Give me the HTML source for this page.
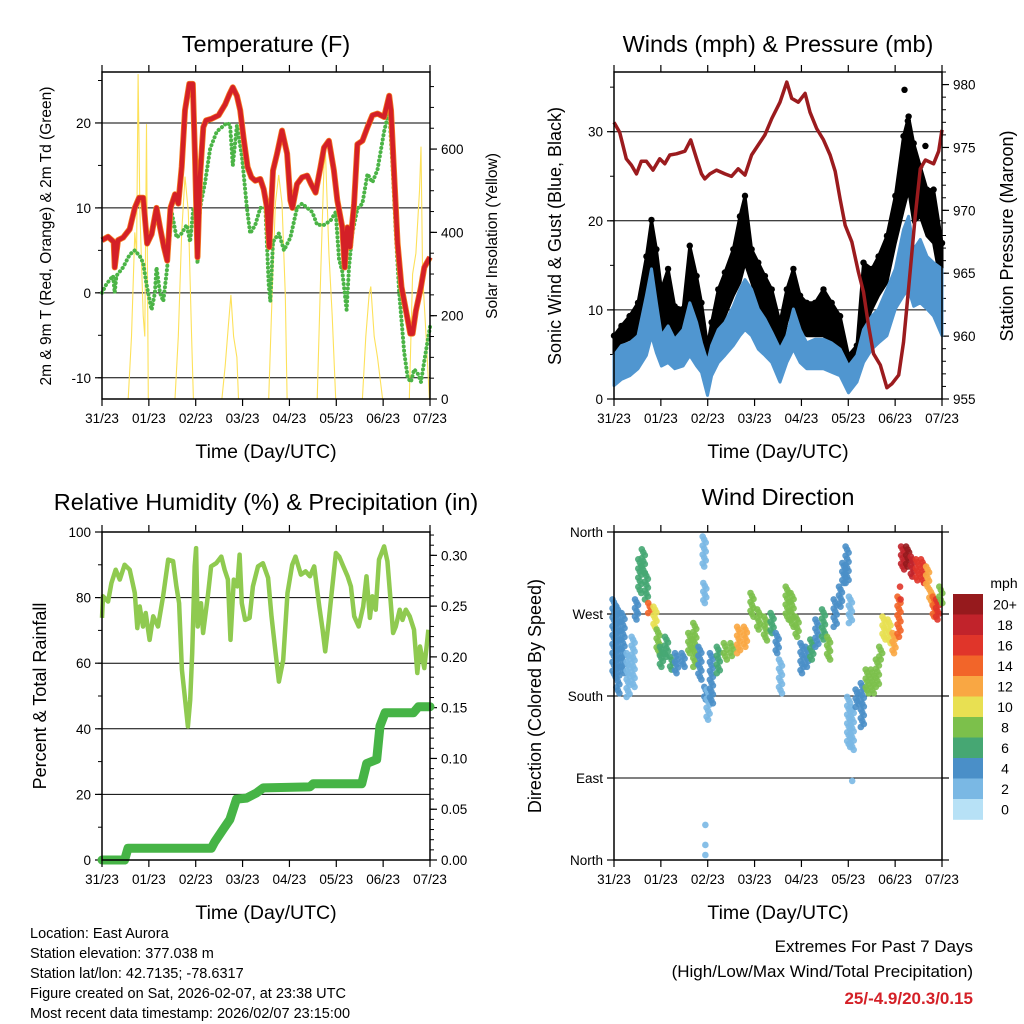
<!DOCTYPE html>
<html><head><meta charset="utf-8"><title>Station Meteogram</title>
<style>
html,body{margin:0;padding:0;background:#fff;}
svg{display:block;font-family:"Liberation Sans",Arial,sans-serif;}
</style></head>
<body>
<svg id="chart" width="1024" height="1024" viewBox="0 0 1024 1024">
<rect x="0" y="0" width="1024" height="1024" fill="#fff"/>
</svg>
<script>
// ---------- Temperature panel data ----------
const tempT = [0,3.1,6,6.5,8.2,10.8,14.2,16.8,19,21.1,23.1,25.4,27.9,29.7,31.7,33.4,35.1,37.4,39.1,40.8,42.5,44.7,46.5,47.7,48.9,50.2,51.9,53.3,56.2,59.7,63.1,65.3,67,69.1,70.8,72.5,74.6,76.5,78.5,81.1,82.8,84.5,85.7,86.6,87.6,89.7,92.2,94.8,96.5,97.5,99.9,102.5,105.1,107.1,109.4,111.9,113.7,116.2,118.8,120.5,123.1,124.3,125.7,127,129.1,130.8,133.4,136,138.5,141.1,144.5,147.1,148,149.7,151.4,153.4,155.7,157.9,159.1,160.8,163.4,165.1,168];
const tempV = [6.2,6.6,6,3,6.2,6.5,7.5,10,11.2,11.2,5.8,6.9,10,7.7,5.4,3.8,10,11.6,10.5,14.8,21.5,24.6,24.6,15.6,4.2,13.6,19.5,20.3,20.5,20.9,22.2,23.4,24.2,23.2,21.5,18.3,14.8,13.6,13.2,13.4,12.2,10,5.4,10,14.4,16.4,19.1,16.4,10.9,10,12.8,13.6,13.8,12.8,11.8,14.8,17.1,17.9,14.4,10.9,7.7,3,7.7,5.4,10.5,17.5,17.9,19.5,20.9,21.1,20.7,23.2,21.5,13.6,5.8,0.7,-2.1,-4.8,-4.8,-2.1,0.7,3,4.2];
const dewT = [0,2.2,5.7,6.5,7.4,10.8,14.2,16.8,19.4,21.1,22.8,25.4,27.1,27.9,29.7,31.4,33.4,35.7,38.2,40.8,43.4,45.1,46.8,48.2,48.9,50.2,52.8,55.4,58.8,63.9,65.6,67,69.1,71.7,74.2,75.9,78.5,81.1,83.7,85.4,86.2,87.6,90.6,93.2,96.5,99.9,102.5,105.1,107.7,110.2,113.7,117.1,119.7,121.4,123.1,125.3,126.5,128.2,130.8,133.4,136,138.5,141.1,144.5,147.1,148.8,150.5,152.2,154.8,156.6,158.2,159.9,161.7,163.4,165.1,168];
const dewV = [0,1,2,0,2,3,4.5,5,4.3,3.5,1,-2,0,3,0,-1,3,9.5,6.5,7,8,6,10,9,3.5,10,13,17,19,20,19.8,15,19.7,16,10,7,8,10,10,1,-1,6,7,5,6.5,10,10.5,10,9.5,8,8,8.5,9.5,4,2.5,-2,3,7,9.9,10.5,14,13,14.5,19,21.5,15,7,0,-7,-10,-10.5,-9,-9.5,-10.5,-8,-4];
const solarT = [0,13.4,15.1,16.8,17.7,18.5,19.4,21.1,21.9,22.8,23.7,37.4,39.1,40.8,42.5,44.2,45.9,46.8,61.4,63.1,64.8,66,67.4,69.1,69.9,85.4,87.1,88.8,90.5,92.2,93.9,94.8,110.2,112,113.7,114.5,116.2,117.9,119.7,133.4,135.1,136.8,137.7,139.4,141.1,143.7,157.4,159.1,160.8,162.6,163.4,164.2,166,167.7,168];
const solarV = [0,0,150,400,350,780,450,200,150,660,0,0,150,400,534,450,150,0,0,80,180,250,150,100,0,0,250,470,538,470,250,0,0,300,560,590,350,200,0,0,150,250,270,150,100,0,0,300,350,500,606,300,150,0,0];
const tempTicks = [-10,0,10,20];
const solarTicks = [0,200,400,600];
const dayLabels = ["31/23","01/23","02/23","03/23","04/23","05/23","06/23","07/23"];

// ---------- Wind panel data ----------
const windT = [0,3.8,8,12.3,16.6,19.2,21.7,24.3,27.7,31.1,35.4,38.8,42.3,44.8,47.9,50,53.4,56.8,61.1,64.5,67.1,70.5,73.9,77.3,80.8,85,88.5,91.9,95.3,98.7,103,107.3,111.5,115.8,120.1,124.4,127.8,132.1,135.5,139.8,144.1,148.3,150.9,153.5,156.9,160.3,163.7,168];
const windLo = [1.5,2.2,2.6,3.4,4.9,7.1,5.2,3.7,4.1,3.4,3.7,4.9,3.7,3,0.4,2.6,4.1,4.9,6,7.1,7.8,7.1,5.6,4.9,4.1,1.9,4.1,5.6,4.1,3.4,3.4,3.4,3,2.6,0.7,1.9,4.1,5.6,6.3,7.1,10.1,11.6,12.3,10.4,10.8,10.1,9.3,7.1];
const windHi = [4.9,6,6.3,7.1,11.6,14.6,10.8,7.1,8.2,6.7,7.8,10.8,8.6,6.3,4.1,6,7.8,8.6,10.4,12.3,13.4,12.3,10.1,9,7.5,5.6,7.1,10.1,7.8,6.3,6.7,6.7,6.3,5.6,3.7,4.9,7.8,9.3,10.1,12.3,14.6,19,20.5,16.8,17.9,16,15.3,14.6];
const gustLo = [4.9,6.3,6.7,7.5,9.3,12.3,9.3,6.3,7.1,6.3,7.1,8.6,7.8,6.3,4.1,6,7.8,9.3,11.6,13.1,15.3,13.1,10.8,9,7.8,4.9,8.6,10.8,7.8,7.1,7.1,7.1,6.3,5.2,3.7,4.9,7.8,10.1,11.6,13.1,17.5,21.3,23.5,19.8,20.5,18.3,17.5,12.3];
const gustHi = [7.1,8.2,9.3,10.8,16,20.1,16.8,12.3,14.6,10.4,10.1,17.2,13.8,10.8,6,8.6,12.3,14.2,16.8,20.5,22.8,16.8,15.3,13.8,12.3,8.6,12.3,14.6,11.6,10.8,10.8,12.3,10.8,9.3,4.9,6,15.3,14.6,16,18.3,22.8,29.5,31.7,28.7,26.1,23.5,23.5,17.5];
const gustPeakT = [148.8,150.5,159.5];
const gustPeakV = [34.7,31.2,28.4];
const presT = [0,2.9,6.3,8.9,11.5,14,16.6,20,23.4,26,28.6,32,36.3,39.3,42.3,44.8,46.5,49.1,52.5,56.8,60.2,63.6,67.1,70.5,73.9,77.3,80.8,85,88.5,91,94.4,97.9,100.4,103.8,107.3,110.7,113.3,115.8,118.4,121.8,125.2,127.8,130.4,132.9,136.4,139.8,142.3,145.8,148.3,150.9,154.3,156.9,159.5,163.7,166.3,168];
const presV = [977,976.2,974.1,973.6,972.9,973.9,973.9,973.2,974.1,973.7,974.4,974.5,974.7,975.6,974.1,972.9,972.5,972.9,973.2,972.9,972.7,973.3,972.8,974.4,975.2,976,977.3,978.6,980.2,978.9,978.6,979.3,977.8,976.5,975.6,974.4,973.1,970.9,968.8,967.5,965.1,963.5,960.8,958.6,957.7,955.9,956.2,956.9,959.5,963.8,969.6,973.3,974,973.7,974.7,976.4];
const windTicks = [0,10,20,30];
const presTicks = [955,960,965,970,975,980];

// ---------- RH / precip data ----------
const rhT = [0,0.5,3.1,4.8,7,9.1,11.6,14.2,16.8,18.1,19.3,21,22.4,24.4,26.2,28.7,31.3,33.9,36.4,38.1,39.5,40.9,42.4,44,45.2,46.2,47.5,48.2,49,50.7,51.8,54.2,55.9,58.5,61.1,62.8,64.5,65.8,67.5,69.3,70.5,71.6,73.3,75.6,77.3,79.9,82.4,85.1,86.8,88.9,90.6,92.8,95,97.4,99.1,101.9,104.3,106.5,108.7,111.3,113,114.3,116,117.8,119.8,121.5,123.6,125.8,127.5,129.2,131.5,133.8,135.5,137.2,138.5,140.2,141.9,144.5,146.2,147.9,149.1,150.5,152.5,153.9,155.6,157.6,159.8,161.5,162.9,165.1,167.2];
const rhV = [73.8,80.4,78.8,84.4,88.5,85.5,90,88.5,81.4,70.7,77.3,71.2,75.3,67.1,74.3,71.2,80.4,91.6,91.1,83.4,78.3,58,49.8,40.7,48.8,63.1,89.5,95.1,71.2,78.3,69.2,80.4,89.5,90.5,92.5,88.5,85.5,67.1,85.5,83.4,93.1,78.3,73.2,73.8,83.4,89.5,90.5,86,74.3,63.1,54.4,61,81.4,90,92.5,87,88,86.5,89.5,77.3,70.2,63.6,72.2,82.4,93.6,92.5,89.5,86.5,83.4,74.3,71.2,77.3,86.5,73.8,80.4,76.3,91.6,95.6,91.1,78.3,69.2,71.2,76.3,73.2,76.3,74.3,70.2,57,65.1,58.5,70.2];
const rainT = [0,11.6,13.3,56,57.8,62,65.5,68.9,74,79.1,82.6,106.5,108.2,133,135.6,140.7,142.4,145,159.5,162.1,168];
const rainV = [0,0,0.0115,0.0115,0.018,0.03,0.04,0.06,0.061,0.066,0.071,0.072,0.075,0.075,0.095,0.099,0.132,0.145,0.145,0.151,0.151];
const rhTicks = [0,20,40,60,80,100];
const rainTicks = [0,0.05,0.10,0.15,0.20,0.25,0.30];
const rainLabels = ["0.00","0.05","0.10","0.15","0.20","0.25","0.30"];

// ---------- Wind direction data ----------
const dirT = [0,2,4.6,7.2,9.8,11.5,13.2,15,16.6,18.3,21,22.6,24.3,26.9,29.5,32,35.4,38.8,41.4,44,46.2,46.5,47,48.2,49.9,53.4,57,60.4,63.8,67.3,70.7,74.1,77.6,81,83.6,85.3,88.7,91.2,93.8,96.3,98.8,101.3,103.9,107.3,109.9,113.3,116,117.7,119.4,121.1,120.2,122,124.5,127.2,129.7,132.3,134.9,136.6,138.3,140.9,143.4,146,147.8,150.4,152.8,155.4,158,160.6,162.3,164,165.7,167.4];
const dirLo = [201,183,205,179,190,264,293,315,286,271,256,227,212,223,209,205,212,227,212,198,322,282,176,154,172,205,220,224,227,234,267,253,241,249,227,183,264,256,245,205,212,220,234,242,220,256,278,304,304,260,124,121,168,146,183,183,190,220,242,238,227,245,319,322,311,307,304,300,282,267,264,282];
const dirHi = [286,278,271,227,245,286,330,341,315,282,278,253,234,245,223,227,227,249,260,234,355,304,190,187,227,234,238,238,256,256,293,275,267,271,249,220,300,293,267,238,234,242,264,275,245,286,300,326,344,289,179,168,187,194,209,209,220,234,267,264,249,289,344,344,333,330,330,322,297,289,286,300];
const dirSpd = [3,3,3,2,2.5,4,5,6,6,13,10,7,6,6,5,4,4.5,8,7,4,1.5,1.5,4,2,4,6,7,7.5,11,11,8.5,7,7,6.5,4,2.5,7,7.5,8,4,4,5,4,6,7,4.5,4,4,4,2,2,2,4,4,7,7,7.5,7,9,10,12,14,18,20,17,16,15,11,11,14,15,8];
const dirIsoT = [46.8,46.8,46.8,122,146.5,146.8];
const dirIsoV = [38.5,16.5,5.5,86.8,300,286];
const dirIsoSpd = [1,1,1,1,15,15];
const dirTickVals = [0,90,180,270,360];
const dirTickLabels = ["North","East","South","West","North"];
const speedLabels = ["0","2","4","6","8","10","12","14","16","18","20+"];
const speedColors = ["#b7e1f6","#7ab8e4","#4a8fc8","#46a773","#7cc04b","#e8e052","#f9a743","#f26529","#e0352a","#c1232b","#961a1d"];

// ---------- helpers ----------
const NS = 'http://www.w3.org/2000/svg';
const svg = document.getElementById('chart');
function mk(tag, attrs, parent) {
  const e = document.createElementNS(NS, tag);
  for (const k in attrs) e.setAttribute(k, attrs[k]);
  (parent || svg).appendChild(e);
  return e;
}
function txt(str, x, y, size, anchor, parent, extra) {
  const a = {x: x, y: y, 'font-size': size, 'text-anchor': anchor || 'middle', fill: '#000'};
  if (extra) for (const k in extra) a[k] = extra[k];
  const e = mk('text', a, parent);
  e.textContent = str;
  return e;
}
function xs(P, t) { return P.x0 + t / 168 * (P.x1 - P.x0); }
function ys(P, v, lo, hi) { return P.y1 - (v - lo) / (hi - lo) * (P.y1 - P.y0); }
function pathOf(P, T, V, lo, hi) {
  let d = '';
  for (let i = 0; i < T.length; i++) d += (i ? 'L' : 'M') + xs(P, T[i]).toFixed(1) + ',' + ys(P, V[i], lo, hi).toFixed(1);
  return d;
}
function bandOf(P, T, L, H, lo, hi) {
  let d = '';
  for (let i = 0; i < T.length; i++) d += (i ? 'L' : 'M') + xs(P, T[i]).toFixed(1) + ',' + ys(P, H[i], lo, hi).toFixed(1);
  for (let i = T.length - 1; i >= 0; i--) d += 'L' + xs(P, T[i]).toFixed(1) + ',' + ys(P, L[i], lo, hi).toFixed(1);
  return d + 'Z';
}
function frame(P, g) {
  const r = mk('rect', {x: P.x0, y: P.y0, width: P.x1 - P.x0, height: P.y1 - P.y0, fill: 'none', stroke: '#000', 'stroke-width': 1.5}, g);
  
  
}
function xAxis(P, g) {
  for (let i = 0; i < dayLabels.length; i++) {
    const x = xs(P, i * 24);
    mk('line', {x1: x, x2: x, y1: P.y1, y2: P.y1 + 7, stroke: '#000', 'stroke-width': 1.2}, g);
    mk('line', {x1: x, x2: x, y1: P.y0, y2: P.y0 - 7, stroke: '#000', 'stroke-width': 1.2}, g);
    const l = txt(dayLabels[i], x, P.y1 + 24, 13.5, 'middle', g);
    
    
  }
  const t = txt('Time (Day/UTC)', (P.x0 + P.x1) / 2, P.y1 + 59, 19.5, 'middle', g);
  
  
}
function leftTicks(P, g, vals, labels, lo, hi, grid, minorStep) {
  if (minorStep) {
    for (let v = Math.ceil(lo / minorStep) * minorStep; v <= hi; v += minorStep) {
      const y = ys(P, v, lo, hi);
      mk('line', {x1: P.x0 - 4, x2: P.x0, y1: y, y2: y, stroke: '#000', 'stroke-width': 1}, g);
    }
  }
  for (let i = 0; i < vals.length; i++) {
    const y = ys(P, vals[i], lo, hi);
    mk('line', {x1: P.x0 - 7, x2: P.x0, y1: y, y2: y, stroke: '#000', 'stroke-width': 1.2}, g);
    if (grid && y > P.y0 + 2 && y < P.y1 - 2) mk('line', {x1: P.x0, x2: P.x1, y1: y, y2: y, stroke: '#000', 'stroke-width': 1}, g);
    const l = txt(labels[i], P.x0 - 11, y + 5, 13.5, 'end', g);
    
    
  }
}
function rightTicks(P, g, vals, labels, lo, hi, minorStep) {
  if (minorStep) {
    for (let v = Math.ceil(lo / minorStep - 1e-6) * minorStep; v <= hi + 1e-9; v += minorStep) {
      const y = ys(P, v, lo, hi);
      mk('line', {x1: P.x1, x2: P.x1 + 4, y1: y, y2: y, stroke: '#000', 'stroke-width': 1}, g);
    }
  }
  for (let i = 0; i < vals.length; i++) {
    const y = ys(P, vals[i], lo, hi);
    mk('line', {x1: P.x1, x2: P.x1 + 7, y1: y, y2: y, stroke: '#000', 'stroke-width': 1.2}, g);
    const l = txt(labels[i], P.x1 + 11, y + 5, 13.5, 'start', g);
    
    
  }
}
function vTitle(str, x, y, size, g, name) {
  const t = txt(str, x, y, size, 'middle', g, {transform: 'rotate(-90 ' + x + ' ' + y + ')'});
  
  
}
function ptitle(str, x, y, g) {
  const t = txt(str, x, y, 23.5, 'middle', g);
  
  
}

// ---------- Panel 1: temperature ----------
const P1 = {x0: 102, x1: 430, y0: 72, y1: 399};
const g1 = mk('g', {});


ptitle('Temperature (F)', 266, 52, g1);
leftTicks(P1, g1, tempTicks, tempTicks.map(String), -12.5, 26, true, 5);
rightTicks(P1, g1, solarTicks, solarTicks.map(String), 0, 785, 50);
const sol = mk('path', {d: pathOf(P1, solarT, solarV, 0, 785), fill: 'none', stroke: '#fde15a', 'stroke-width': 1.1}, g1);


const dew = mk('path', {d: pathOf(P1, dewT, dewV, -12.5, 26), fill: 'none', stroke: '#4bb446', 'stroke-width': 4, 'stroke-dasharray': '0.1 4.2', 'stroke-linecap': 'round'}, g1);


const t9 = mk('path', {d: pathOf(P1, tempT, tempV, -12.5, 26), fill: 'none', stroke: '#f47a20', 'stroke-width': 6, 'stroke-linejoin': 'round'}, g1);


const t2 = mk('path', {d: pathOf(P1, tempT, tempV, -12.5, 26), fill: 'none', stroke: '#d42027', 'stroke-width': 4.5, 'stroke-linejoin': 'round'}, g1);


frame(P1, g1);
xAxis(P1, g1);
vTitle('2m & 9m T (Red, Orange) & 2m Td (Green)', 51, 236, 15.5, g1, 'left-y-axis-title');
vTitle('Solar Insolation (Yellow)', 497, 236, 15.5, g1, 'right-y-axis-title');

// ---------- Panel 2: winds ----------
const P2 = {x0: 614, x1: 942, y0: 72, y1: 399};
const g2 = mk('g', {});


ptitle('Winds (mph) & Pressure (mb)', 778, 52, g2);
leftTicks(P2, g2, windTicks, windTicks.map(String), 0, 36.7, true, 5);
rightTicks(P2, g2, presTicks, presTicks.map(String), 955, 981, 1);
const gb = mk('path', {d: bandOf(P2, windT, gustLo, gustHi, 0, 36.7), fill: '#000', stroke: '#000', 'stroke-width': 3, 'stroke-linejoin': 'round'}, g2);


for (let i = 0; i < windT.length; i++) {
  const c = mk('circle', {cx: xs(P2, windT[i]), cy: ys(P2, gustHi[i], 0, 36.7), r: 3.2, fill: '#000'}, g2);
  
  
}
for (let i = 0; i < gustPeakT.length; i++) {
  const c = mk('circle', {cx: xs(P2, gustPeakT[i]), cy: ys(P2, gustPeakV[i], 0, 36.7), r: 3.2, fill: '#000'}, g2);
  
  
}
const wb = mk('path', {d: bandOf(P2, windT, windLo, windHi, 0, 36.7), fill: '#5096d0', stroke: '#5096d0', 'stroke-width': 3, 'stroke-linejoin': 'round'}, g2);


const pl = mk('path', {d: pathOf(P2, presT, presV, 955, 981), fill: 'none', stroke: '#9b1b1e', 'stroke-width': 3.5, 'stroke-linejoin': 'round'}, g2);


frame(P2, g2);
xAxis(P2, g2);
vTitle('Sonic Wind & Gust (Blue, Black)', 561, 236, 18, g2, 'left-y-axis-title');
vTitle('Station Pressure (Maroon)', 1013, 236, 18, g2, 'right-y-axis-title');

// ---------- Panel 3: RH & precip ----------
const P3 = {x0: 102, x1: 430, y0: 532, y1: 860};
const g3 = mk('g', {});


ptitle('Relative Humidity (%) & Precipitation (in)', 266, 510, g3);
leftTicks(P3, g3, rhTicks, rhTicks.map(String), 0, 100, true, 10);
rightTicks(P3, g3, rainTicks, rainLabels, 0, 0.323, 0.01);
const rh = mk('path', {d: pathOf(P3, rhT, rhV, 0, 100), fill: 'none', stroke: '#8fca50', 'stroke-width': 4.5, 'stroke-linejoin': 'round'}, g3);


const rn = mk('path', {d: pathOf(P3, rainT, rainV, 0, 0.323), fill: 'none', stroke: '#46b446', 'stroke-width': 9, 'stroke-linejoin': 'round', 'stroke-linecap': 'round'}, g3);


frame(P3, g3);
xAxis(P3, g3);
vTitle('Percent & Total Rainfall', 46, 696, 18, g3, 'left-y-axis-title');

// ---------- Panel 4: wind direction ----------
const P4 = {x0: 614, x1: 942, y0: 532, y1: 860};
const g4 = mk('g', {});


ptitle('Wind Direction', 778, 505, g4);
leftTicks(P4, g4, dirTickVals, dirTickLabels, 0, 360, true, 0);
for (let i = 0; i < dirTickVals.length; i++) {
  const y = ys(P4, dirTickVals[i], 0, 360);
  mk('line', {x1: P4.x1, x2: P4.x1 + 7, y1: y, y2: y, stroke: '#000', 'stroke-width': 1.2}, g4);
}
function spColor(s) { return speedColors[Math.max(0, Math.min(10, Math.round(s / 2)))]; }
for (let i = 0; i < dirT.length; i++) {
  const x = xs(P4, dirT[i]);
  const yA = ys(P4, dirHi[i], 0, 360), yB = ys(P4, dirLo[i], 0, 360);
  const n = Math.max(1, Math.round((yB - yA) / 3));
  for (let k = 0; k <= n; k++) {
    const c = mk('circle', {cx: (x + (k % 3 - 1) * 1.5).toFixed(1), cy: (yA + (yB - yA) * k / n).toFixed(1), r: 3.3, fill: spColor(dirSpd[i]), 'fill-opacity': 0.9}, g4);
    
    
  }
}
for (let i = 0; i < dirIsoT.length; i++) {
  const c = mk('circle', {cx: xs(P4, dirIsoT[i]), cy: ys(P4, dirIsoV[i], 0, 360), r: 3.3, fill: spColor(dirIsoSpd[i]), 'fill-opacity': 0.9}, g4);
  
  
}
frame(P4, g4);
xAxis(P4, g4);
vTitle('Direction (Colored By Speed)', 541, 696, 18, g4, 'left-y-axis-title');

// colorbar
const cb = mk('g', {});


const mph = txt('mph', 1004, 588, 14, 'middle', cb);


for (let i = 0; i < speedColors.length; i++) {
  const k = speedColors.length - 1 - i;
  const y = 594 + i * 20.5;
  const r = mk('rect', {x: 953, y: y, width: 30, height: 20.8, fill: speedColors[k]}, cb);
  
  
  const l = txt(speedLabels[k], 1005, y + 15.5, 14, 'middle', cb);
  
  
}

// ---------- footer text ----------
const info = ["Location: East Aurora","Station elevation: 377.038 m","Station lat/lon: 42.7135; -78.6317","Figure created on Sat, 2026-02-07, at 23:38 UTC","Most recent data timestamp: 2026/02/07 23:15:00"];
for (let i = 0; i < info.length; i++) {
  const l = txt(info[i], 30, 938 + i * 20, 14.5, 'start');
  
  
}
const e1 = txt('Extremes For Past 7 Days', 973, 952, 17, 'end');


const e2 = txt('(High/Low/Max Wind/Total Precipitation)', 973, 977, 17, 'end');


const e3 = txt('25/-4.9/20.3/0.15', 973, 1004, 17, 'end', null, {fill: '#d42027', 'font-weight': 'bold'});


</script>
</body></html>
